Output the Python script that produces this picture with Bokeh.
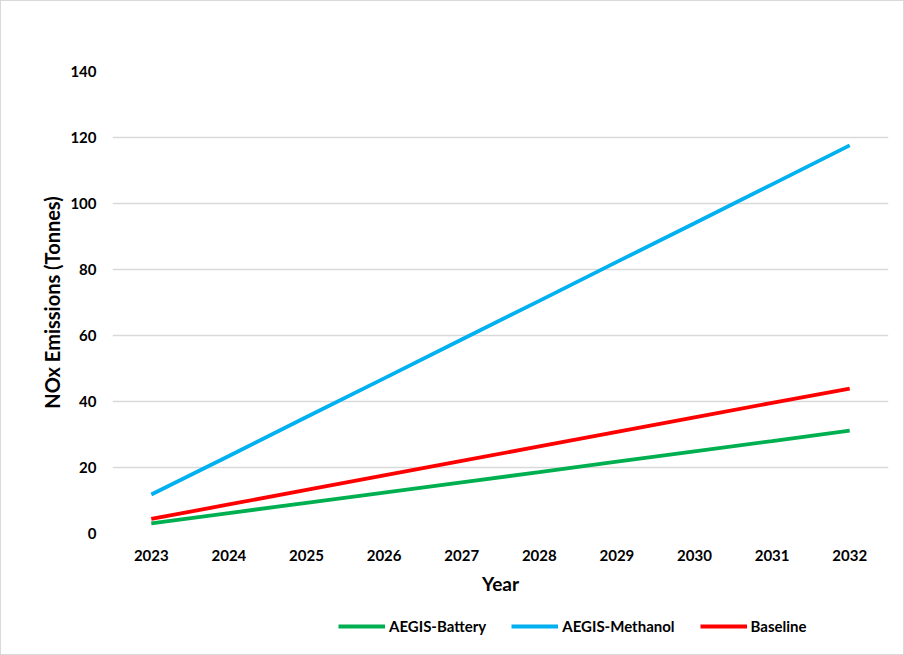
from bokeh.plotting import figure
from bokeh.layouts import column
from bokeh.models import (FactorRange, Range1d, FixedTicker, Legend, LegendItem,
                          ColumnDataSource)
from bokeh.embed import file_html
from bokeh.resources import INLINE

years = ["2023", "2024", "2025", "2026", "2027", "2028", "2029", "2030", "2031", "2032"]
battery = [3.1, 6.2, 9.3, 12.4, 15.5, 18.6, 21.8, 24.9, 28.0, 31.2]
methanol = [11.8, 23.5, 35.3, 47.0, 58.8, 70.5, 82.3, 94.0, 105.8, 117.6]
baseline = [4.4, 8.8, 13.2, 17.6, 22.0, 26.4, 30.8, 35.2, 39.6, 43.9]
y_ticks = [0, 20, 40, 60, 80, 100, 120, 140]
series_names = ["AEGIS-Battery", "AEGIS-Methanol", "Baseline"]
series_colors = ["#00B050", "#00B0F0", "#FF0000"]

FONT = "Lato"

p = figure(width=901, height=598, x_range=FactorRange(*years), y_range=Range1d(0, 140),
           output_backend="svg", toolbar_location=None,
           min_border_left=111, min_border_right=14, min_border_top=70, min_border_bottom=66)
p.outline_line_color = None
p.background_fill_color = "white"
p.border_fill_color = "white"

src = ColumnDataSource(dict(x=years, b=battery, m=methanol, s=baseline))
for col, color in zip(["b", "m", "s"], series_colors):
    p.line("x", col, source=src, line_color=color, line_width=3.8)

p.xgrid.grid_line_color = None
p.ygrid.grid_line_color = "#d9d9d9"
p.ygrid.grid_line_width = 1.5
p.yaxis.ticker = FixedTicker(ticks=y_ticks)

for ax in (p.xaxis[0], p.yaxis[0]):
    ax.axis_line_color = None
    ax.major_tick_line_color = None
    ax.minor_tick_line_color = None
    ax.major_label_text_font = FONT
    ax.major_label_text_font_style = "bold"
    ax.major_label_text_font_size = "15px"
    ax.major_label_text_color = "#000000"
    ax.axis_label_text_font = FONT
    ax.axis_label_text_font_style = "bold"
    ax.axis_label_text_font_size = "19px"
    ax.axis_label_text_color = "#000000"

p.yaxis.axis_label_text_font_size = "20px"
p.xaxis.axis_label = "Year"
p.yaxis.axis_label = "NOx Emissions (Tonnes)"
p.xaxis.major_label_standoff = 10
p.xaxis.axis_label_standoff = 8
p.yaxis.major_label_standoff = 10
p.yaxis.axis_label_standoff = 3

# legend strip below the chart (its series lie outside its visible range)
p2 = figure(width=901, height=54, x_range=FactorRange(*years), y_range=Range1d(1000, 1001),
            output_backend="svg", toolbar_location=None, min_border=0)
p2.axis.visible = False
p2.grid.visible = False
p2.outline_line_color = None
p2.border_fill_color = "white"
items = []
for name, col, color in zip(series_names, ["b", "m", "s"], series_colors):
    r = p2.line("x", col, source=src, line_color=color, line_width=3.8)
    items.append(LegendItem(label=name, renderers=[r]))

legend = Legend(items=items, orientation="horizontal", location=(226, 18),
                label_text_font=FONT, label_text_font_style="bold",
                label_text_font_size="15px", label_text_color="#000000",
                glyph_width=47, glyph_height=12, label_standoff=4, spacing=25,
                padding=0, margin=0, border_line_color=None,
                background_fill_alpha=0)
p2.add_layout(legend, "center")

layout = column(p, p2, spacing=0, width=904, height=655)
layout.styles = {"border": "1.5px solid #d9d9d9", "box-sizing": "border-box"}

open("out.html", "w").write(file_html(layout, INLINE))
